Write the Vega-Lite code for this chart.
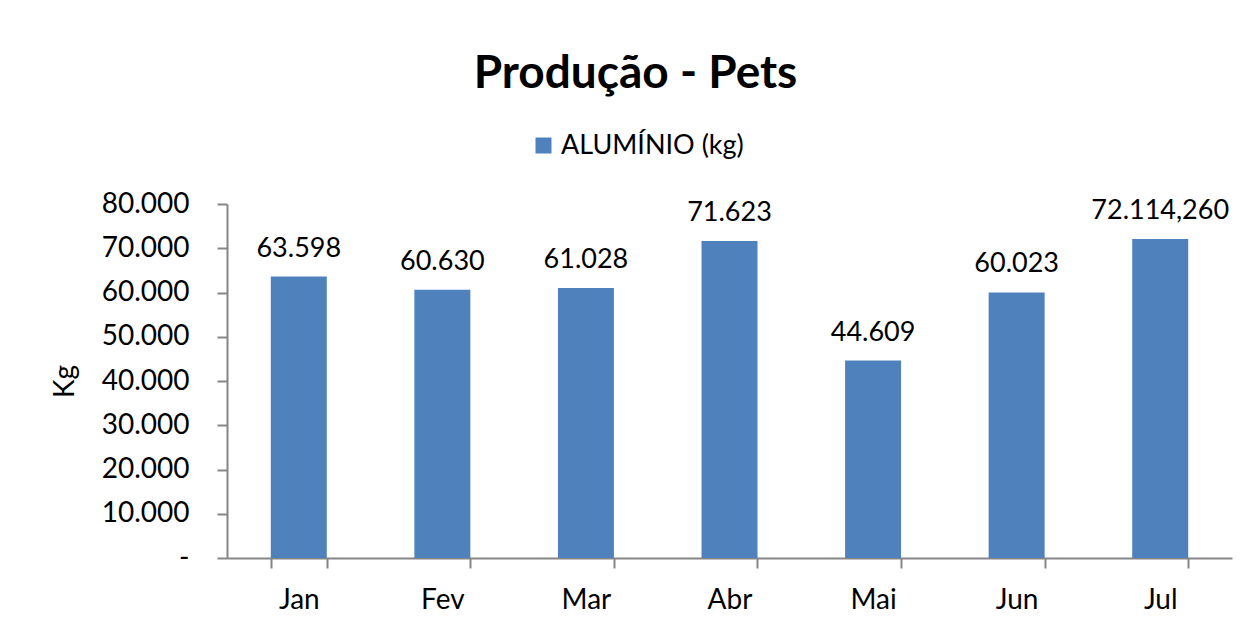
{
  "$schema": "https://vega.github.io/schema/vega-lite/v6.json",
  "width": 1005,
  "height": 354,
  "autosize": {"type": "none"},
  "padding": {"left": 227, "top": 204, "right": 27, "bottom": 72},
  "background": "white",
  "config": {
    "font": "Lato",
    "view": {"stroke": null},
    "locale": {"number": {"decimal": ",", "thousands": ".", "grouping": [3], "currency": ["R$", ""]}}
  },
  "title": {
    "text": "Produção - Pets",
    "font": "Lato",
    "fontSize": 46,
    "fontWeight": "bold",
    "color": "black",
    "anchor": "middle",
    "frame": "group",
    "dx": -94,
    "offset": 34
  },
  "data": {
    "values": [
      {"mes": "Jan", "valor": 63598, "label": "63.598", "serie": "ALUMÍNIO (kg)"},
      {"mes": "Fev", "valor": 60630, "label": "60.630", "serie": "ALUMÍNIO (kg)"},
      {"mes": "Mar", "valor": 61028, "label": "61.028", "serie": "ALUMÍNIO (kg)"},
      {"mes": "Abr", "valor": 71623, "label": "71.623", "serie": "ALUMÍNIO (kg)"},
      {"mes": "Mai", "valor": 44609, "label": "44.609", "serie": "ALUMÍNIO (kg)"},
      {"mes": "Jun", "valor": 60023, "label": "60.023", "serie": "ALUMÍNIO (kg)"},
      {"mes": "Jul", "valor": 72114.26, "label": "72.114,260", "serie": "ALUMÍNIO (kg)"}
    ]
  },
  "encoding": {
    "x": {
      "field": "mes",
      "type": "nominal",
      "sort": null,
      "scale": {"paddingInner": 0.61, "paddingOuter": 0.305},
      "axis": {
        "title": null,
        "labelAngle": 0,
        "labelFontSize": 28,
        "labelColor": "black",
        "labelPadding": 18,
        "tickBand": "extent",
        "tickSize": 10,
        "tickColor": "#868686",
        "tickWidth": 2,
        "domainColor": "#868686",
        "domainWidth": 2
      }
    },
    "y": {
      "field": "valor",
      "type": "quantitative",
      "scale": {"domain": [0, 80000], "nice": false},
      "axis": {
        "title": "Kg",
        "titleFontSize": 28,
        "titleFontWeight": "normal",
        "titleColor": "black",
        "titlePadding": 22,
        "values": [0, 10000, 20000, 30000, 40000, 50000, 60000, 70000, 80000],
        "format": ",.0f",
        "labelExpr": "datum.value === 0 ? '-\u2002' : datum.label",
        "labelFontSize": 28,
        "labelColor": "black",
        "labelPadding": 28,
        "tickSize": 10,
        "tickColor": "#868686",
        "tickWidth": 2,
        "domainColor": "#868686",
        "domainWidth": 2,
        "grid": false
      }
    }
  },
  "layer": [
    {
      "mark": {"type": "bar", "color": "#4F81BD"},
      "encoding": {
        "color": {
          "field": "serie",
          "type": "nominal",
          "scale": {"range": ["#4F81BD"]},
          "legend": {
            "title": null,
            "orient": "none",
            "legendX": 303,
            "legendY": -72,
            "symbolType": "square",
            "symbolSize": 256,
            "symbolStrokeWidth": 0,
            "labelFontSize": 27,
            "labelLimit": 0,
            "labelColor": "black",
            "labelOffset": 4
          }
        }
      }
    },
    {
      "mark": {"type": "text", "baseline": "alphabetic", "dy": -20, "fontSize": 27, "color": "black"},
      "encoding": {
        "text": {"field": "label"}
      }
    }
  ]
}
